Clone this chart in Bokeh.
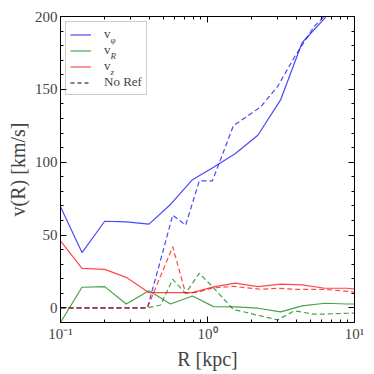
from bokeh.plotting import figure
from bokeh.models import (LogAxis, LinearAxis, FixedTicker, SingleIntervalTicker,
                          Legend, LegendItem, Label, Range1d, CustomJSTickFormatter)
from bokeh.embed import file_html
from bokeh.resources import INLINE

# ---- data ----
R = [0.1, 0.14, 0.2, 0.28, 0.4, 0.56, 0.79, 1.1, 1.55, 2.2, 3.15, 4.4, 6.3, 8.9, 12.5]
v_phi = [69.5, 38, 59.5, 59, 57.5, 71, 88, 96.5, 106, 118.5, 143, 182, 199, 222, 240]
v_R = [-10, 14.2, 14.6, 2.7, 11.8, 2.7, 8.2, 0.9, 0.7, -0.2, -2.7, 1.4, 3.2, 2.7, 2.7]
v_z = [46, 27.2, 26.5, 21, 10.5, 10.5, 10.5, 14.5, 17, 14.6, 16.4, 15.8, 13.5, 13.5, 12]

R_noref = [0.1, 0.39, 0.48, 0.58, 0.71, 0.88, 1.08, 1.5, 2.3, 3.0, 3.9, 5.3, 6.2, 9.4, 12.5]
v_phi_noref = [0, 0, 33, 63.7, 56.8, 87.2, 87.2, 125, 138, 152, 172, 193, 200, 222, 235]
v_R_noref = [0, 0, 2, 19.6, 10, 23.8, 14.6, -1, -5.5, -8.2, -2, -4.3, -4.2, -3.6, -3.5]
v_z_noref = [0, 0, 22, 42, 10, 11, 13.7, 14.8, 12.8, 13.5, 12.8, 12.8, 12.8, 11.2, 9]

x_major = [0.1, 1, 10]
x_minor = [0.2, 0.3, 0.4, 0.5, 0.6, 0.7, 0.8, 0.9, 2, 3, 4, 5, 6, 7, 8, 9]
x_labels = {0.1: "10⁻¹", 1: "10⁰", 10: "10¹"}
legend_labels = ["v", "v", "v", "No Ref"]
legend_subs = ["φ", "R", "z"]

FONT = "Liberation Serif"
BLUE, GREEN, RED = "#0000ff", "#008000", "#ff0000"
ALPHA = 0.72

p = figure(width=374, height=374, x_axis_type="log",
           x_range=Range1d(0.1, 10), y_range=Range1d(-10, 200),
           output_backend="svg", toolbar_location=None,
           min_border_left=60, min_border_right=20, min_border_top=16, min_border_bottom=52,
           background_fill_color="white", border_fill_color="white")
p.grid.visible = False
p.outline_line_color = "black"
p.outline_line_width = 1

xt = FixedTicker(ticks=x_major, minor_ticks=x_minor)
yt = SingleIntervalTicker(interval=50, num_minor_ticks=5)

def style_axis(ax, show_labels):
    ax.axis_line_color = "black"
    ax.major_tick_in = 6
    ax.major_tick_out = 0
    ax.minor_tick_in = 3
    ax.minor_tick_out = 0
    ax.major_tick_line_color = "black"
    ax.minor_tick_line_color = "black"
    ax.major_label_text_font = FONT
    if show_labels:
        ax.major_label_text_font_size = "15px"
        ax.major_label_standoff = 3
        ax.axis_label_text_font = FONT
        ax.axis_label_text_font_size = "20px"
        ax.axis_label_text_font_style = "normal"
        ax.axis_label_standoff = 3
    else:
        ax.formatter = CustomJSTickFormatter(code="return ''")
        ax.major_label_text_font_size = "1px"
        ax.major_label_standoff = 0

p.xaxis.ticker = xt
p.yaxis.ticker = yt
p.xaxis.major_label_overrides = x_labels
p.xaxis.axis_label = "R [kpc]"
p.yaxis.axis_label = "v(R) [km/s]"
style_axis(p.xaxis[0], True)
style_axis(p.yaxis[0], True)

top = LogAxis(ticker=FixedTicker(ticks=x_major, minor_ticks=x_minor))
style_axis(top, False)
p.add_layout(top, "above")
right = LinearAxis(ticker=SingleIntervalTicker(interval=50, num_minor_ticks=5))
style_axis(right, False)
p.add_layout(right, "right")

lw = 1.2
dash = "5 3"
r1 = p.line(R, v_phi, line_color=BLUE, line_alpha=ALPHA, line_width=lw)
r2 = p.line(R, v_R, line_color=GREEN, line_alpha=ALPHA, line_width=lw)
r3 = p.line(R, v_z, line_color=RED, line_alpha=ALPHA, line_width=lw)
p.line(R_noref, v_phi_noref, line_color=BLUE, line_alpha=ALPHA, line_width=lw, line_dash=dash)
p.line(R_noref, v_R_noref, line_color=GREEN, line_alpha=ALPHA, line_width=lw, line_dash=dash)
p.line(R_noref, v_z_noref, line_color=RED, line_alpha=ALPHA, line_width=lw, line_dash=dash)
r4 = p.line([0.1], [-50], line_color="black", line_width=1, line_dash="4 3")

legend = Legend(items=[LegendItem(label=legend_labels[0], renderers=[r1]),
                       LegendItem(label=legend_labels[1], renderers=[r2]),
                       LegendItem(label=legend_labels[2], renderers=[r3]),
                       LegendItem(label=legend_labels[3], renderers=[r4])],
                location="top_left", margin=5, padding=4, spacing=0,
                glyph_width=21, glyph_height=13, label_height=13, label_standoff=13,
                label_text_font=FONT, label_text_font_size="13px",
                border_line_color="#999999", border_line_width=1,
                background_fill_color="white", background_fill_alpha=0)
p.add_layout(legend)

# subscripts for the legend's "v" labels (placed in data units next to each "v")
sub_x = 0.219
sub_y = [184.0, 172.8, 161.7]
for i, s in enumerate(legend_subs):
    p.add_layout(Label(x=sub_x, y=sub_y[i], text=s, text_font=FONT, text_font_size="9px",
                       level="overlay",
                       text_font_style="normal" if i == 0 else "italic",
                       text_baseline="alphabetic"))

open("out.html", "w").write(file_html(p, INLINE))
